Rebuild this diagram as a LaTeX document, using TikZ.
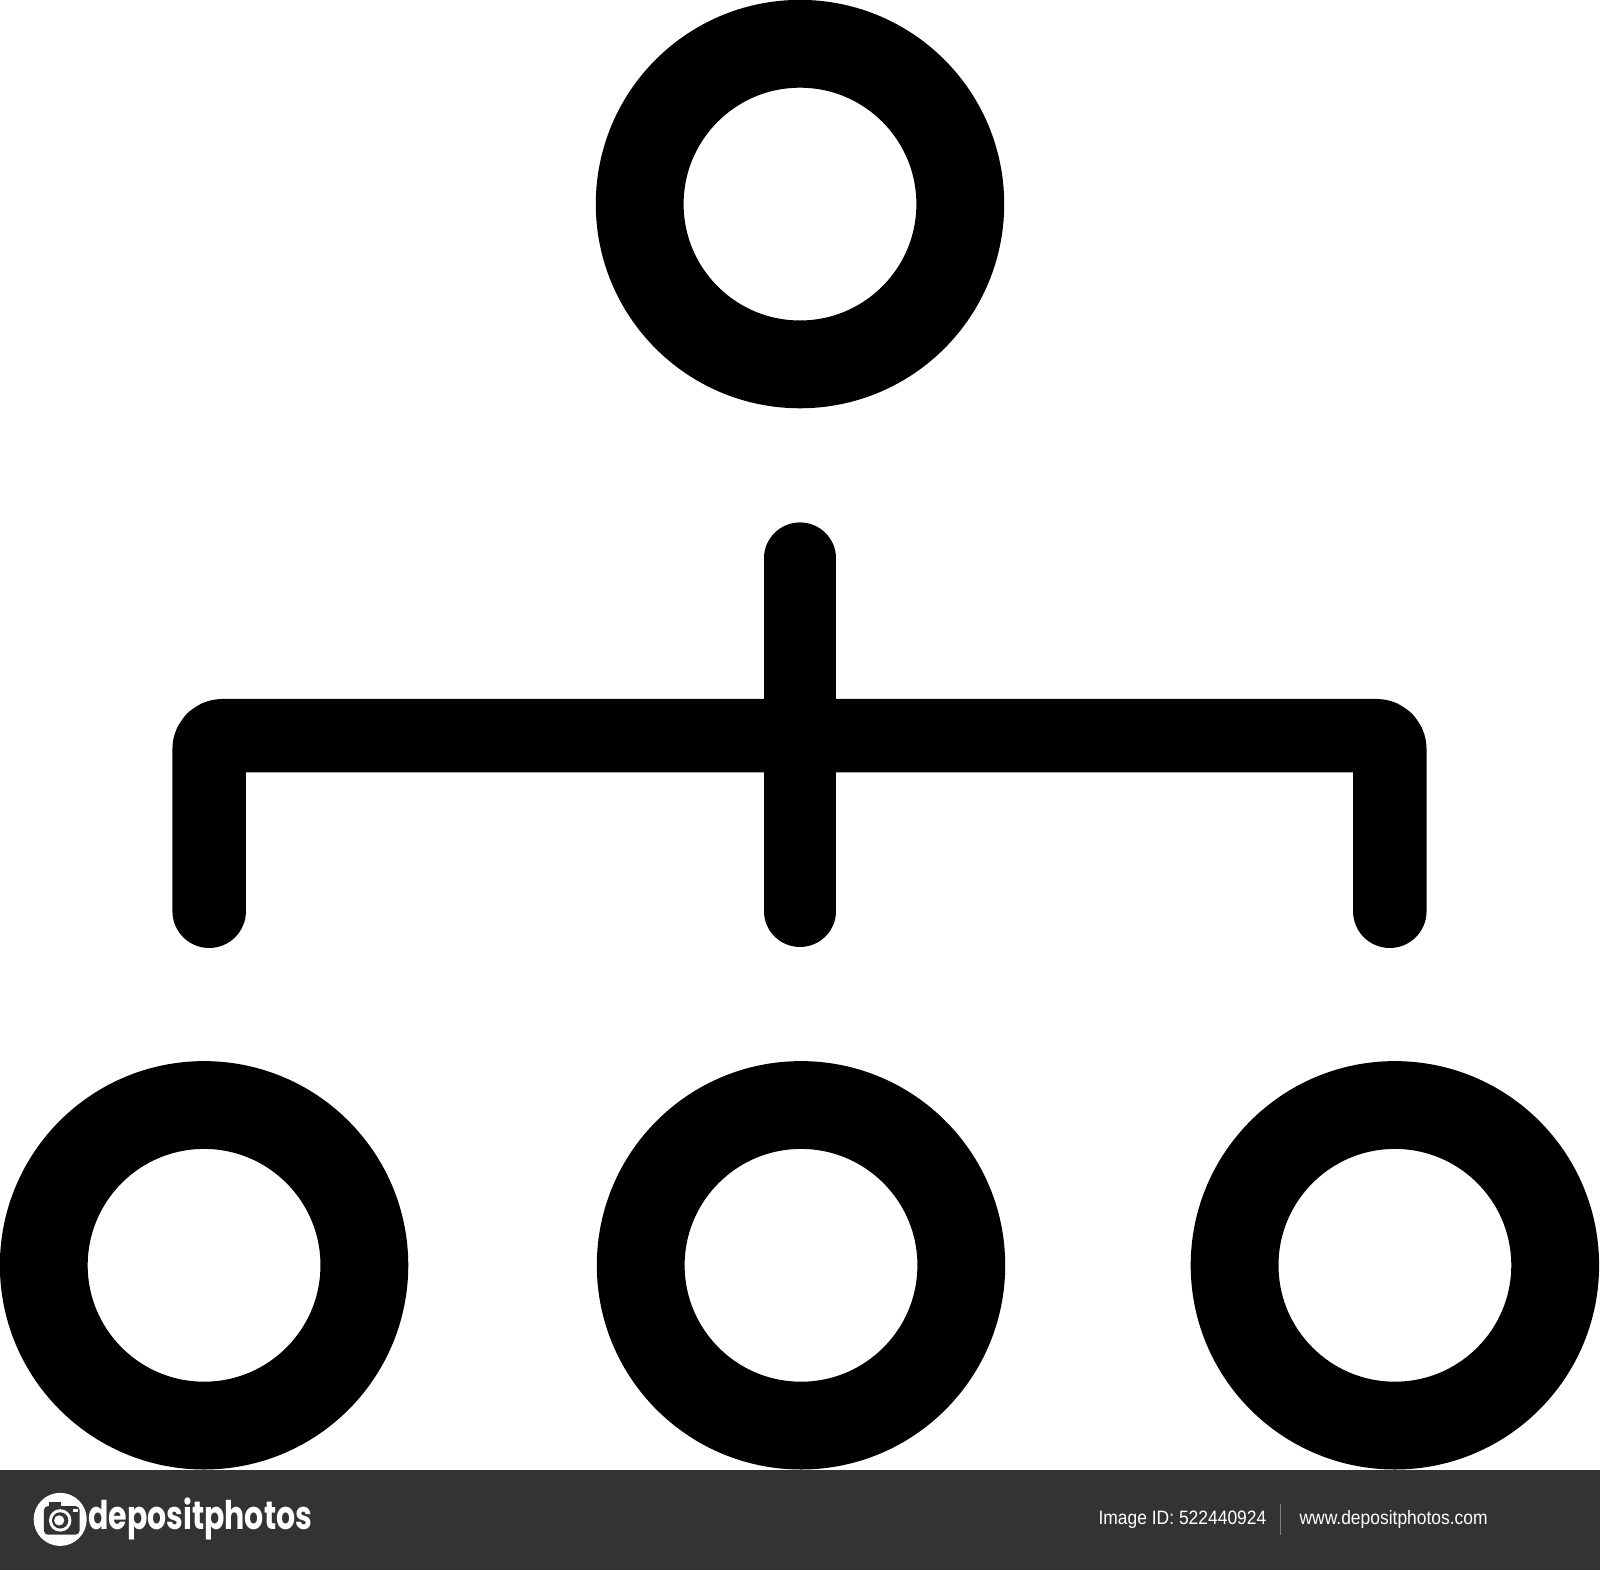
\documentclass[tikz,border=0pt]{standalone}
\usepackage{fontspec}
\newfontfamily\logofont{Poppins}
\newfontfamily\bandfont{Liberation Sans}
\definecolor{band}{HTML}{333333}
\begin{document}
\begin{tikzpicture}[x=0.01cm, y=-0.01cm, line join=round, line cap=round,
    ring/.style={circle, draw, line width=0.86cm, minimum size=3.14cm, inner sep=0pt},
    bandtext/.style={text=white, anchor=west, inner sep=0pt, xscale=0.9, font=\bandfont\fontsize{5.4pt}{6pt}\selectfont}]
    \useasboundingbox (0,0) rectangle (1568,1539);
    \node[ring] (boss) at (784,200) {};
    \foreach \n/\x in {left/200,mid/785,right/1367}
    \node[ring] (\n) at (\x,1240) {};
    % branches
    \coordinate (stemtop) at (784,547);
    \coordinate (stembot) at (784,893);
    \coordinate (lefttip) at (205,893);
    \coordinate (righttip) at (1362,893);
    \draw[line width=0.70cm] (stemtop) -- (stembot);
    \draw[line width=0.72cm, rounded corners=0.13cm] (lefttip) -- (205,721) -- (1362,721) -- (righttip);
    % footer band
    \fill[band] (0,1441) rectangle (1568,1539);
    \fill[white] (59,1489) circle (26);
    \fill[band, rounded corners=0.04cm] (43,1476) rectangle (78,1504);
    \fill[band] (48,1476) rectangle (60,1472);
    \fill[white] (72,1479) rectangle (76,1482);
    \fill[white] (59,1490) circle (11);
    \fill[band] (59,1490) circle (8);
    \fill[white] (58,1490) circle (5);
    \node[text=white, anchor=west, inner sep=0pt, xscale=0.76, font=\logofont\bfseries\fontsize{11pt}{11pt}\selectfont] (brand) at (86,1489) {depositphotos};
    \node[bandtext] (imgid) at (1076,1489) {Image ID: 522440924};
    \draw[gray, line width=0.3pt] (1255,1474) -- (1255,1504);
    \node[bandtext] (site) at (1273,1489) {www.depositphotos.com};
\end{tikzpicture}
\end{document}
